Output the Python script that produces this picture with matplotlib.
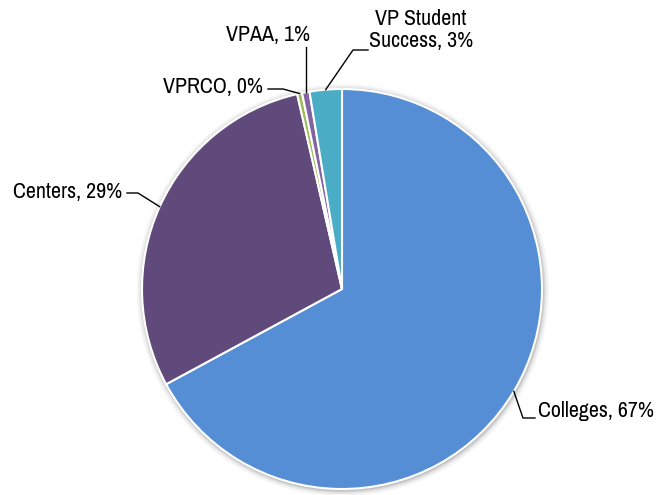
import matplotlib
matplotlib.use("Agg")
import matplotlib.pyplot as plt
from matplotlib.patches import Circle
from matplotlib import font_manager
import numpy as np

categories = ["Colleges", "Centers", "VPRCO", "VPAA", "VP Student\nSuccess"]
values = [67.1, 29.3, 0.4, 0.6, 2.6]
pct_labels = ["67%", "29%", "0%", "1%", "3%"]
colors = ["#558ED5", "#604A7B", "#9BBB59", "#8064A2", "#4BACC6"]

# look for a narrow/condensed sans face (Arial Narrow look)
narrow = None
for f in font_manager.fontManager.ttflist:
    if ('Narrow' in f.name or 'Condensed' in f.name) and 'Mono' not in f.name:
        narrow = f.name
        break
if narrow:
    plt.rcParams['font.family'] = [narrow, 'DejaVu Sans']
    FS = 15.8
else:
    plt.rcParams['font.family'] = ['Liberation Sans', 'DejaVu Sans']
    FS = 12.8

fig = plt.figure(figsize=(6.64, 4.95), dpi=100)
ax = fig.add_axes([0, 0, 1, 1])

# soft shadow
for k, a in [(0.03, 0.04), (0.02, 0.05), (0.012, 0.07), (0.006, 0.09)]:
    ax.add_patch(Circle((0.004, -0.006), 1 + k, color='black', alpha=a, lw=0, zorder=0))

wedges, _ = ax.pie(values, colors=colors, startangle=90, counterclock=False,
                   radius=1.0, center=(0, 0), frame=True,
                   wedgeprops=dict(edgecolor='white', linewidth=1.5))
ax.set_xlim(-1.71, 1.61)
ax.set_ylim(-1.03, 1.445)
ax.set_aspect('equal')
ax.axis('off')

# layout: (text position, ha, va, elbow, end)
layout = [
    ((0.98, -0.61), 'left', 'center', (0.905, -0.645), (0.965, -0.645)),
    ((-1.10, 0.485), 'right', 'center', (-1.02, 0.48), (-1.075, 0.48)),
    ((-0.395, 1.01), 'right', 'center', (-0.295, 1.0), (-0.37, 1.0)),
    ((-0.3725, 1.27), 'center', 'center', None, None),
    ((0.395, 1.295), 'center', 'center', (0.055, 1.195), (0.13, 1.195)),
]

for w, cat, pl, (tpos, ha, va, elbow, end) in zip(wedges, categories, pct_labels, layout):
    mid = np.deg2rad((w.theta1 + w.theta2) / 2)
    ax_, ay_ = np.cos(mid) * w.r, np.sin(mid) * w.r
    if elbow is None:
        xs, ys = [ax_, ax_], [ay_, 1.21]
    else:
        xs, ys = [ax_, elbow[0], end[0]], [ay_, elbow[1], end[1]]
    ax.plot(xs, ys, color='black', lw=1.0, zorder=5)
    ax.text(tpos[0], tpos[1], f"{cat}, {pl}", ha=ha, va=va, fontsize=FS,
            linespacing=1.1, color='black')

fig.savefig("out.png", dpi=100, facecolor='white')
